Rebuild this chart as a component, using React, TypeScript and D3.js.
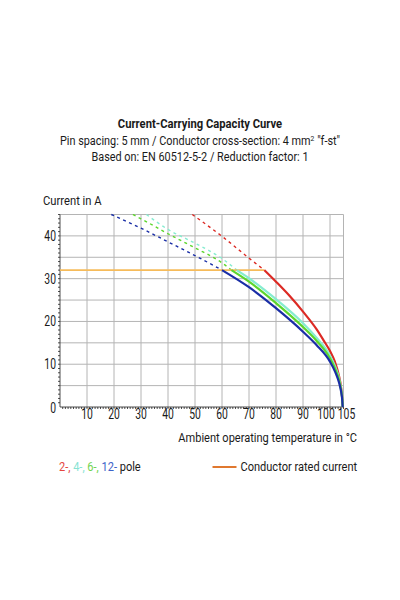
import { useRef, useEffect } from 'react';
import * as d3 from 'd3';

type Pt = [number, number];

const titleText = 'Current-Carrying Capacity Curve';
const subtitleA = 'Pin spacing: 5 mm / Conductor cross-section: 4 mm';
const subtitleB = ' "f-st"';
const subtitle2 = 'Based on: EN 60512-5-2 / Reduction factor: 1';
const yAxisTitle = 'Current in A';
const xAxisTitle = 'Ambient operating temperature in °C';

const xTicks = [10, 20, 30, 40, 50, 60, 70, 80, 90, 100, 105];
const yTicks = [0, 10, 20, 30, 40];
const xGrid = [10, 20, 30, 40, 50, 60, 70, 80, 90, 100];
const yGrid = [5, 10, 15, 20, 25, 30, 35, 40];

// rated conductor current (orange)
const ratedLine: Pt[] = [
  [0, 32],
  [75.7, 32],
];

// 2-pole (red)
const pole2Dashed: Pt[] = [[49, 45], [60, 39.9], [70, 34.8], [75.7, 32]];
const pole2Solid: Pt[] = [
  [75.7, 32], [80, 29.3], [85, 26], [90, 22.3], [95, 18.2], [98, 15.2], [100, 13.1],
  [101.8, 10.6], [103.2, 7.6], [104.1, 4.6], [104.5, 2.2], [104.7, 0],
];
// 4-pole (cyan)
const pole4Dashed: Pt[] = [[32, 45], [40, 41.5], [50, 38.3], [60, 34.7], [65.5, 32]];
const pole4Solid: Pt[] = [
  [65.5, 32], [70, 30.1], [80, 25.2], [90, 19.6], [95, 16.2], [100, 12], [102, 9.3],
  [103.4, 6.6], [104.2, 3.8], [104.55, 1.8], [104.7, 0],
];
// 6-pole (green)
const pole6Dashed: Pt[] = [[27, 45], [30, 44], [40, 40.5], [50, 37.2], [60, 33.7], [63.5, 32]];
const pole6Solid: Pt[] = [
  [63.5, 32], [70, 29.3], [80, 24.3], [90, 18.7], [95, 15.5], [100, 11.4], [102, 8.8],
  [103.4, 6.2], [104.2, 3.6], [104.55, 1.7], [104.7, 0],
];
// 12-pole (blue)
const pole12Dashed: Pt[] = [[19, 45], [30, 41.8], [40, 38.6], [50, 35.4], [60, 32]];
const pole12Solid: Pt[] = [
  [60, 32], [70, 28], [80, 23.1], [90, 17.6], [95, 14.5], [100, 10.6], [102, 8.1],
  [103.4, 5.6], [104.2, 3.3], [104.55, 1.5], [104.7, 0],
];

const poles = [
  { label: '2-,', dashed: pole2Dashed, solid: pole2Solid, color: '#dc2a24', legend: '#e5463f' },
  { label: '4-,', dashed: pole4Dashed, solid: pole4Solid, color: '#86ecd0', legend: '#86e3d3' },
  { label: '6-,', dashed: pole6Dashed, solid: pole6Solid, color: '#5cd62c', legend: '#6fd450' },
  { label: '12-', dashed: pole12Dashed, solid: pole12Solid, color: '#1a2ea6', legend: '#3c62c8' },
];

const FONT = 'Roboto, "Noto Sans", sans-serif';
const SX = 0.85; // condensed look

export default function App() {
  const svgRef = useRef<SVGSVGElement>(null);

  useEffect(() => {
    if (!svgRef.current) return;
    const svg = d3.select(svgRef.current);
    svg.selectAll('*').remove();

    const x = d3.scaleLinear().domain([0, 105]).range([60, 343.5]);
    const y = d3.scaleLinear().domain([0, 45]).range([407, 214.5]);

    const text = (
      tx: number,
      ty: number,
      s: string,
      opts: { size?: number; anchor?: string; weight?: string; fill?: string; sx?: number } = {},
    ) =>
      svg
        .append('text')
        .attr('transform', `translate(${tx},${ty}) scale(${opts.sx ?? SX},1)`)
        .attr('font-family', FONT)
        .attr('font-size', opts.size ?? 12.8)
        .attr('font-weight', opts.weight ?? 'normal')
        .attr('text-anchor', opts.anchor ?? 'start')
        .attr('fill', opts.fill ?? '#1a1a1a')
        .text(s);

    // titles
    text(200, 128, titleText, { anchor: 'middle', weight: 'bold', size: 13.2 });
    const sub = text(200, 145, subtitleA, { anchor: 'middle' });
    sub.append('tspan').attr('dy', -4).attr('font-size', 8).text('2');
    sub.append('tspan').attr('dy', 4).text(subtitleB);
    text(200, 161, subtitle2, { anchor: 'middle' });

    // grid
    const grid = svg.append('g').attr('stroke', '#b4b4b4').attr('stroke-width', 1);
    xGrid.forEach((v) =>
      grid.append('line').attr('x1', x(v)).attr('x2', x(v)).attr('y1', y(0)).attr('y2', y(45)),
    );
    yGrid.forEach((v) =>
      grid.append('line').attr('x1', x(0)).attr('x2', x(105)).attr('y1', y(v)).attr('y2', y(v)),
    );
    grid.append('line').attr('x1', x(0)).attr('x2', x(105)).attr('y1', y(45)).attr('y2', y(45));
    grid.append('line').attr('x1', x(105)).attr('x2', x(105)).attr('y1', y(0)).attr('y2', y(45));

    // axes with minor ticks
    const axes = svg.append('g').attr('stroke', '#222').attr('stroke-width', 0.8);
    axes.append('line').attr('x1', x(0)).attr('x2', x(0)).attr('y1', y(0)).attr('y2', y(45));
    axes.append('line').attr('x1', x(0)).attr('x2', x(105)).attr('y1', y(0)).attr('y2', y(0));
    d3.range(1, 46).forEach((v) =>
      axes.append('line').attr('x1', x(0) - 2).attr('x2', x(0)).attr('y1', y(v)).attr('y2', y(v)),
    );
    d3.range(1, 106).forEach((v) =>
      axes.append('line').attr('x1', x(v)).attr('x2', x(v)).attr('y1', y(0)).attr('y2', y(0) + 2),
    );

    // tick labels
    yTicks.forEach((v) =>
      text(56, y(v) + (v === 0 ? 6 : 5), String(v), { anchor: 'end', size: 14, sx: 0.74 }),
    );
    xTicks.forEach((v) => {
      const dx = v === 100 ? -4 : v === 105 ? 3 : 0;
      text(x(v) + dx, 419, String(v), { anchor: 'middle', size: 14, sx: 0.74 });
    });

    text(43, 205, yAxisTitle, { size: 13.2 });
    text(357, 442, xAxisTitle, { anchor: 'end', size: 13 });

    const line = d3
      .line<Pt>()
      .x((d) => x(d[0]))
      .y((d) => y(d[1]))
      .curve(d3.curveMonotoneX);

    // dashed extrapolations
    poles.forEach((p) =>
      svg
        .append('path')
        .datum(p.dashed)
        .attr('fill', 'none')
        .attr('stroke', p.color)
        .attr('stroke-width', 1.4)
        .attr('stroke-dasharray', '3,3.5')
        .attr('d', line),
    );

    // rated current
    svg
      .append('path')
      .datum(ratedLine)
      .attr('fill', 'none')
      .attr('stroke', '#f6bb5a')
      .attr('stroke-width', 1.6)
      .attr('d', line);

    // solid derating curves
    poles.forEach((p) =>
      svg
        .append('path')
        .datum(p.solid)
        .attr('fill', 'none')
        .attr('stroke', p.color)
        .attr('stroke-width', 2.2)
        .attr('d', line),
    );

    // legend
    const leg = svg
      .append('text')
      .attr('transform', `translate(59,471) scale(${SX},1)`)
      .attr('font-family', FONT)
      .attr('font-size', 13)
      .attr('fill', '#1a1a1a');
    poles.forEach((p) => leg.append('tspan').attr('fill', p.legend).text(p.label + ' '));
    leg.append('tspan').text('pole');

    svg
      .append('line')
      .attr('x1', 212.5)
      .attr('x2', 236.5)
      .attr('y1', 467)
      .attr('y2', 467)
      .attr('stroke', '#e0782f')
      .attr('stroke-width', 2);
    text(240.5, 471, 'Conductor rated current', { size: 13 });
  }, []);

  return (
    <div style={{ position: 'absolute', left: 0, top: 0, width: 400, height: 600, background: '#fff' }}>
      <svg ref={svgRef} width={400} height={600} viewBox="0 0 400 600" />
    </div>
  );
}
